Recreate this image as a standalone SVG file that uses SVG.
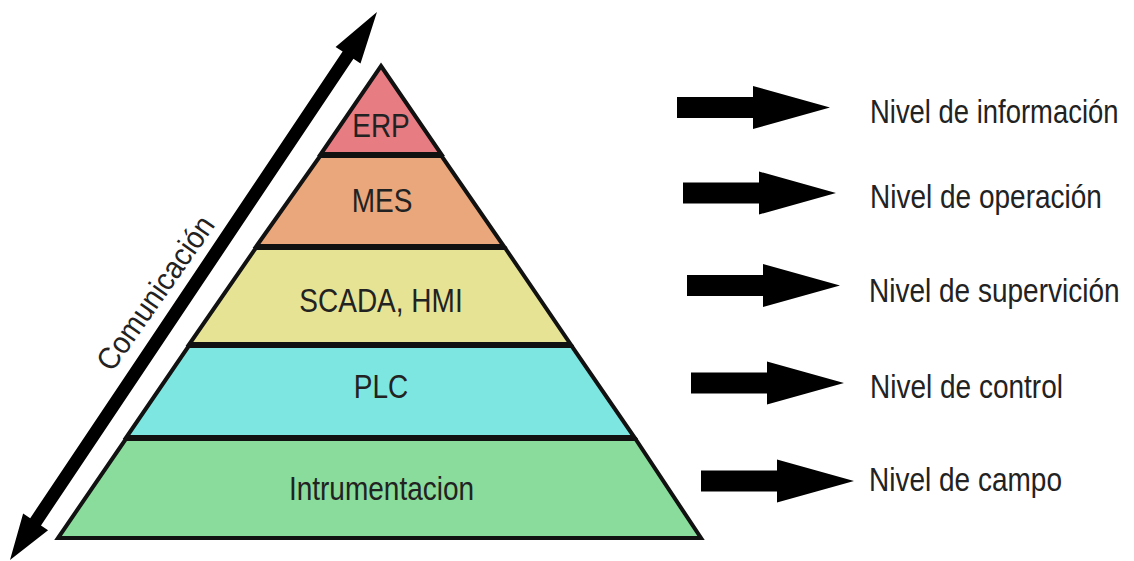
<svg xmlns="http://www.w3.org/2000/svg" width="1134" height="561" viewBox="0 0 1134 561">
<style>
.band{stroke:#111;stroke-width:4;stroke-linejoin:miter}
.t{font-family:"Liberation Sans",Arial,sans-serif;font-size:28px;fill:#222}
.c{text-anchor:middle}
.arr{fill:#000}
</style>
<defs>
<path id="arr" d="M0,-10.5 H76 V-21.5 L153,0 L76,21.5 V10.5 H0 Z"/>
</defs>
<rect width="1134" height="561" fill="#fff"/>
<g id="erp">
<polygon class="band" fill="#e87c83" points="381,66 441.2,154 320.8,154"/>
<text class="t c" transform="translate(381,137) scale(1,1.17)">ERP</text>
</g>
<g id="mes">
<polygon class="band" fill="#e9a77b" points="320.1,156 441.6,156 503.7,246 256.5,246"/>
<text class="t c" transform="translate(382,212) scale(1,1.17)">MES</text>
</g>
<g id="scada">
<polygon class="band" fill="#e6e395" points="255.8,248 505.1,248 570.4,344 189.4,344"/>
<text class="t c" transform="translate(381,312) scale(1,1.17)">SCADA, HMI</text>
</g>
<g id="plc">
<polygon class="band" fill="#7de6e1" points="188.7,346 571.7,346 634.2,437 126.5,437"/>
<text class="t c" transform="translate(381,398) scale(1,1.17)">PLC</text>
</g>
<g id="instrumentacion">
<polygon class="band" fill="#89dc9b" points="125.8,439 635.5,439 701,538 58,538"/>
<text class="t c" transform="translate(381.5,500) scale(1,1.17)">Intrumentacion</text>
</g>
<g id="comunicacion">
<polygon class="arr" transform="translate(10,560) rotate(-56.19)" points="0,0 46,-15 46,-6.5 607.5,-6.5 607.5,-15 659.5,0 607.5,15 607.5,6.5 46,6.5 46,15"/>
<text class="t c" transform="translate(164,299) rotate(-55) scale(1.02,1.1)">Comunicación</text>
</g>
<g id="connectors">
<use href="#arr" class="arr" transform="translate(677,107.5)"/>
<use href="#arr" class="arr" transform="translate(683,193)"/>
<use href="#arr" class="arr" transform="translate(687,285.5)"/>
<use href="#arr" class="arr" transform="translate(691,383)"/>
<use href="#arr" class="arr" transform="translate(701,481)"/>
</g>
<g id="label-informacion"><text class="t" transform="translate(870,123) scale(0.98,1.17)">Nivel de información</text></g>
<g id="label-operacion"><text class="t" transform="translate(870,208) scale(1,1.17)">Nivel de operación</text></g>
<g id="label-supervicion"><text class="t" transform="translate(869,302) scale(1,1.17)">Nivel de supervición</text></g>
<g id="label-control"><text class="t" transform="translate(870,398) scale(1,1.17)">Nivel de control</text></g>
<g id="label-campo"><text class="t" transform="translate(869,491) scale(1,1.17)">Nivel de campo</text></g>
</svg>
